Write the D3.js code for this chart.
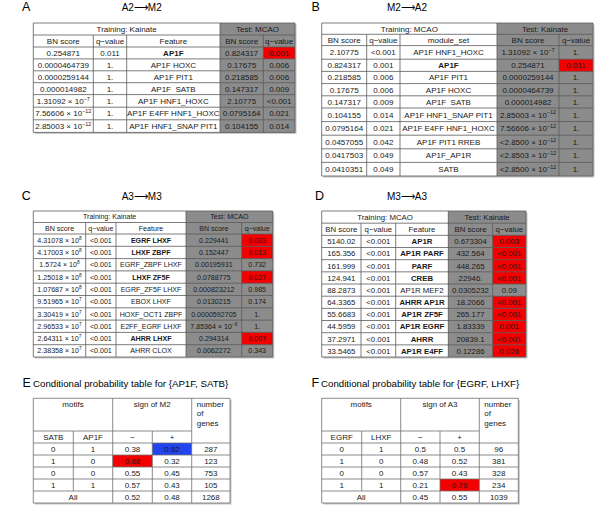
<!DOCTYPE html>
<html>
<head>
<meta charset="utf-8">
<script src="https://cdn.jsdelivr.net/npm/d3@7/dist/d3.min.js"></script>
<style>
body { margin: 0; background: #fff; }
svg { display: block; font-family: "Liberation Sans", Arial, Helvetica, sans-serif; }
</style>
</head>
<body>
<script>
// ---- A : A2 -> M2 (training Kainate, test MCAO)
var aTrainScore = ["0.254871", "0.0000464739", "0.0000259144", "0.000014982", "1.31092e-7", "7.56606e-12", "2.85003e-12"]
var aTrainQ = ["0.011", "1.", "1.", "1.", "1.", "1.", "1."]
var aFeature = ["AP1F", "AP1F HOXC", "AP1F PIT1", "AP1F  SATB", "AP1F HNF1_HOXC", "AP1F E4FF HNF1_HOXC", "AP1F HNF1_SNAP PIT1"]
var aTestScore = ["0.824317", "0.17675", "0.218585", "0.147317", "2.10775", "0.0795164", "0.104155"]
var aTestQ = ["0.001", "0.006", "0.006", "0.009", "<0.001", "0.021", "0.014"]
var aReplicated = [0]

// ---- B : M2 -> A2 (training MCAO, test Kainate)
var bTrainScore = ["2.10775", "0.824317", "0.218585", "0.17675", "0.147317", "0.104155", "0.0795164", "0.0457055", "0.0417503", "0.0410351"]
var bTrainQ = ["<0.001", "0.001", "0.006", "0.006", "0.009", "0.014", "0.021", "0.042", "0.049", "0.049"]
var bFeature = ["AP1F HNF1_HOXC", "AP1F", "AP1F PIT1", "AP1F HOXC", "AP1F  SATB", "AP1F HNF1_SNAP PIT1", "AP1F E4FF HNF1_HOXC", "AP1F PIT1 RREB", "AP1F_AP1R", "SATB"]
var bTestScore = ["1.31092e-7", "0.254871", "0.0000259144", "0.0000464739", "0.000014982", "2.85003e-12", "7.56606e-12", "<2.8500e-12", "<2.8503e-12", "<2.8500e-12"]
var bTestQ = ["1.", "0.011", "1.", "1.", "1.", "1.", "1.", "1.", "1.", "1."]
var bReplicated = [1]

// ---- C : A3 -> M3 (training Kainate, test MCAO)
var cTrainScore = ["4.31078e8", "4.17003e8", "1.5724e8", "1.25018e8", "1.07687e8", "9.51965e7", "3.30419e7", "2.96533e7", "2.64311e7", "2.38358e7"]
var cTrainQ = ["<0.001", "<0.001", "<0.001", "<0.001", "<0.001", "<0.001", "<0.001", "<0.001", "<0.001", "<0.001"]
var cFeature = ["EGRF LHXF", "LHXF ZBPF", "EGRF_ZBPF LHXF", "LHXF ZF5F", "EGRF_ZF5F LHXF", "EBOX LHXF", "HOXF_OCT1 ZBPF", "E2FF_EGRF LHXF", "AHRR LHXF", "AHRR CLOX"]
var cTestScore = ["0.229441", "0.152447", "0.00195931", "0.0788775", "0.000823212", "0.0130215", "0.0000592705", "7.85364e-6", "0.294314", "0.0062272"]
var cTestQ = ["0.003", "0.013", "0.732", "0.027", "0.985", "0.174", "1.", "1.", "0.007", "0.343"]
var cReplicated = [0, 1, 3, 8]

// ---- D : M3 -> A3 (training MCAO, test Kainate)
var dTrainScore = ["5140.02", "165.356", "161.999", "124.941", "88.2873", "64.3365", "55.6683", "44.5959", "37.2971", "33.5465"]
var dTrainQ = ["<0.001", "<0.001", "<0.001", "<0.001", "<0.001", "<0.001", "<0.001", "<0.001", "<0.001", "<0.001"]
var dFeature = ["AP1R", "AP1R PARF", "PARF", "CREB", "AP1R MEF2", "AHRR AP1R", "AP1R ZF5F", "AP1R EGRF", "AHRR", "AP1R E4FF"]
var dTestScore = ["0.673304", "432.564", "448.265", "22946.", "0.0305232", "18.2066", "265.177", "1.83339", "20839.1", "0.12286"]
var dTestQ = ["0.003", "<0.001", "<0.001", "<0.001", "0.09", "<0.001", "<0.001", "0.001", "<0.001", "0.026"]
var dReplicated = [0, 1, 2, 3, 5, 6, 7, 8, 9]

// ---- E : conditional probability table {AP1F, SATB}
var eMotifs = ["SATB", "AP1F"]
var eMotifA = ["0", "1", "0", "1"]
var eMotifB = ["1", "0", "0", "1"]
var eNeg = ["0.38", "0.68", "0.55", "0.57"]
var ePos = ["0.62", "0.32", "0.45", "0.43"]
var eGenes = ["287", "123", "753", "105"]
var eAll = ["0.52", "0.48", "1268"]
var eFlags = [{row: 0, sign: "+"}, {row: 1, sign: "-"}]

// ---- F : conditional probability table {EGRF, LHXF}
var fMotifs = ["EGRF", "LHXF"]
var fMotifA = ["0", "1", "0", "1"]
var fMotifB = ["1", "0", "0", "1"]
var fNeg = ["0.5", "0.48", "0.57", "0.21"]
var fPos = ["0.5", "0.52", "0.43", "0.79"]
var fGenes = ["96", "381", "328", "234"]
var fAll = ["0.45", "0.55", "1039"]
var fFlags = [{row: 3, sign: "+"}]

var GRAY = "#8c8c8c", RED = "#f40000", BLUE = "#2244ee", LINE = "#5a5a5a"

var svg = d3.select("body").append("svg")
    .attr("width", 600)
    .attr("height", 532)

var expRe = /^(<?)([\d.]+)e([+-]?\d+)$/

function isExp(s) { return expRe.test(s) }

// writes a value into a text node, turning 1.2e-7 into 1.2 x 10^-7
function writeValue(t, s, fs) {
    var m = s.match(expRe)
    if (!m) { t.text(s); return }
    t.append("tspan").text(m[1] + m[2] + " \u00d7 10")
    t.append("tspan")
        .attr("font-size", fs * 0.68)
        .attr("dy", -fs * 0.41)
        .text(m[3].replace("-", "\u2212"))
}

function label(letter, lx, title, tx, anchor, base, fs) {
    svg.append("text")
        .attr("x", lx).attr("y", base)
        .attr("font-size", 12.5)
        .text(letter)
    svg.append("text")
        .attr("x", tx).attr("y", base)
        .attr("font-size", fs)
        .attr("text-anchor", anchor)
        .text(title)
}

function resultTable(spec) {
    var g = svg.append("g")
    var fs = spec.fontSize
    var n = spec.cols[0].length
    var heights = [spec.headerH, spec.headerH].concat(d3.range(n).map(function(i) {
        return spec.cols.some(function(c) { return isExp(c[i]) }) ? spec.expRowH : spec.rowH
    }))
    var ys = [spec.top]
    heights.forEach(function(h) { ys.push(ys[ys.length - 1] + h) })
    var x = d3.scaleLinear().domain(d3.range(spec.edges.length)).range(spec.edges)
    var y = d3.scaleLinear().domain(d3.range(ys.length)).range(ys)
    var last = ys.length - 1

    // shadow, white and grey blocks
    g.append("rect")
        .attr("x", x(0) + 1.5).attr("y", y(0) + 1.5)
        .attr("width", x(5) - x(0)).attr("height", y(last) - y(0))
        .attr("fill", "#c4c4c4")
    g.append("rect")
        .attr("x", x(0)).attr("y", y(0))
        .attr("width", x(3) - x(0)).attr("height", y(last) - y(0))
        .attr("fill", "#fff")
    g.append("rect")
        .attr("x", x(3)).attr("y", y(0))
        .attr("width", x(5) - x(3)).attr("height", y(last) - y(0))
        .attr("fill", GRAY)

    g.selectAll(".hit")
        .data(spec.replicated)
        .enter()
        .append("rect")
        .attr("x", x(4)).attr("y", function(i) { return y(i + 2) })
        .attr("width", x(5) - x(4))
        .attr("height", function(i) { return y(i + 3) - y(i + 2) })
        .attr("fill", RED)

    // grid
    g.selectAll(".hl")
        .data(d3.range(ys.length))
        .enter()
        .append("line")
        .attr("x1", x(0)).attr("x2", x(5))
        .attr("y1", function(r) { return y(r) }).attr("y2", function(r) { return y(r) })
        .attr("stroke", LINE).attr("stroke-width", 0.8)
    g.selectAll(".vl")
        .data([0, 1, 2, 3, 4, 5])
        .enter()
        .append("line")
        .attr("x1", function(c) { return x(c) }).attr("x2", function(c) { return x(c) })
        .attr("y1", function(c) { return (c == 0 || c == 3 || c == 5) ? y(0) : y(1) })
        .attr("y2", y(last))
        .attr("stroke", LINE).attr("stroke-width", 0.8)

    function put(cx, r, s, bold) {
        var t = g.append("text")
            .attr("x", cx)
            .attr("y", (y(r) + y(r + 1)) / 2 + fs * 0.36)
            .attr("font-size", fs)
            .attr("text-anchor", "middle")
            .attr("fill", "#1a1a1a")
            .attr("font-weight", bold ? "bold" : null)
            .attr("xml:space", "preserve")
        writeValue(t, s, fs)
    }

    put((x(0) + x(3)) / 2, 0, spec.trainLabel)
    put((x(3) + x(5)) / 2, 0, spec.testLabel)
    spec.colNames.forEach(function(name, c) { put((x(c) + x(c + 1)) / 2, 1, name) })
    spec.cols.forEach(function(col, c) {
        col.forEach(function(v, i) {
            put((x(c) + x(c + 1)) / 2, i + 2, v, c == 2 && spec.replicated.indexOf(i) >= 0)
        })
    })
}

function condTable(spec) {
    var g = svg.append("g")
    var ys = [spec.top, spec.top + spec.h1]
    d3.range(6).forEach(function() { ys.push(ys[ys.length - 1] + spec.rowH) })
    var x = d3.scaleLinear().domain(d3.range(spec.edges.length)).range(spec.edges)
    var y = d3.scaleLinear().domain(d3.range(ys.length)).range(ys)
    var last = ys.length - 1
    var signCol = {"-": 2, "+": 3}

    g.append("rect")
        .attr("x", x(0) + 1.5).attr("y", y(0) + 1.5)
        .attr("width", x(5) - x(0)).attr("height", y(last) - y(0))
        .attr("fill", "#c4c4c4")
    g.append("rect")
        .attr("x", x(0)).attr("y", y(0))
        .attr("width", x(5) - x(0)).attr("height", y(last) - y(0))
        .attr("fill", "#fff")

    g.selectAll(".flag")
        .data(spec.flags)
        .enter()
        .append("rect")
        .attr("x", function(f) { return x(signCol[f.sign]) })
        .attr("y", function(f) { return y(f.row + 2) })
        .attr("width", function(f) { return x(signCol[f.sign] + 1) - x(signCol[f.sign]) })
        .attr("height", spec.rowH)
        .attr("fill", function(f) { return f.sign == "+" && spec.flags.length > 1 ? BLUE : RED })

    var hl = [[0, 0, 5], [1, 0, 4]].concat(d3.range(2, last + 1).map(function(r) { return [r, 0, 5] }))
    g.selectAll(".hl")
        .data(hl)
        .enter()
        .append("line")
        .attr("x1", function(d) { return x(d[1]) }).attr("x2", function(d) { return x(d[2]) })
        .attr("y1", function(d) { return y(d[0]) }).attr("y2", function(d) { return y(d[0]) })
        .attr("stroke", "#6e6e6e").attr("stroke-width", 0.8)
    var vl = [[0, 0, last], [2, 0, last], [4, 0, last], [5, 0, last], [1, 1, last - 1], [3, 1, last]]
    g.selectAll(".vl")
        .data(vl)
        .enter()
        .append("line")
        .attr("x1", function(d) { return x(d[0]) }).attr("x2", function(d) { return x(d[0]) })
        .attr("y1", function(d) { return y(d[1]) }).attr("y2", function(d) { return y(d[2]) })
        .attr("stroke", "#6e6e6e").attr("stroke-width", 0.8)

    function put(cx, cy, s, anchor) {
        g.append("text")
            .attr("x", cx).attr("y", cy)
            .attr("font-size", 8)
            .attr("text-anchor", anchor || "middle")
            .attr("fill", "#1a1a1a")
            .text(s)
    }
    function mid(c) { return (x(c) + x(c + 1)) / 2 }
    function rowY(r) { return (y(r) + y(r + 1)) / 2 + 2.9 }

    put((x(0) + x(2)) / 2, y(0) + 8.5, "motifs")
    put((x(2) + x(4)) / 2, y(0) + 8.5, spec.signLabel)
    ;["number", "of", "genes"].forEach(function(w, k) {
        put(x(4) + 5, y(0) + 8.5 + k * 9.5, w, "start")
    })
    put(mid(0), rowY(1), spec.motifs[0])
    put(mid(1), rowY(1), spec.motifs[1])
    put(mid(2), rowY(1), "\u2212")
    put(mid(3), rowY(1), "+")
    var cols = [spec.a, spec.b, spec.neg, spec.pos, spec.genes]
    cols.forEach(function(col, c) {
        col.forEach(function(v, i) { put(mid(c), rowY(i + 2), v) })
    })
    put((x(0) + x(2)) / 2, rowY(last - 1), "All")
    spec.all.forEach(function(v, k) { put(mid(k + 2), rowY(last - 1), v) })
}

label("A", 22, "A2\u27f6M2", 141.7, "middle", 10.7, 10)
label("B", 311.5, "M2\u27f6A2", 407, "middle", 10.7, 10)
label("C", 21.7, "A3\u27f6M3", 141.7, "middle", 200, 10)
label("D", 315, "M3\u27f6A3", 407, "middle", 200, 10)
label("E", 22.5, "Conditional probability table for {AP1F, SATB}", 33, "start", 387.3, 9.7)
label("F", 311.5, "Conditional probability table for {EGRF, LHXF}", 321, "start", 387.3, 9.7)

var scoreHeads = ["BN score", "q\u2212value", "Feature", "BN score", "q\u2212value"]

resultTable({
    edges: [33.3, 93.3, 126.7, 220, 263.3, 295], top: 23, fontSize: 8,
    headerH: 12, rowH: 11.9, expRowH: 12.6,
    trainLabel: "Training: Kainate", testLabel: "Test: MCAO", colNames: scoreHeads,
    cols: [aTrainScore, aTrainQ, aFeature, aTestScore, aTestQ], replicated: aReplicated
})
resultTable({
    edges: [321.7, 366.7, 400, 497, 559, 593], top: 23, fontSize: 8,
    headerH: 11.3, rowH: 12.2, expRowH: 13.6,
    trainLabel: "Training: MCAO", testLabel: "Test: Kainate",
    colNames: ["BN score", "q\u2212value", "module_set", "BN score", "q\u2212value"],
    cols: [bTrainScore, bTrainQ, bFeature, bTestScore, bTestQ], replicated: bReplicated
})
resultTable({
    edges: [33.3, 85.7, 116, 186, 241.7, 272.7], top: 211, fontSize: 7.1,
    headerH: 11.5, rowH: 12.3, expRowH: 12.3,
    trainLabel: "Training: Kainate", testLabel: "Test: MCAO", colNames: scoreHeads,
    cols: [cTrainScore, cTrainQ, cFeature, cTestScore, cTestQ], replicated: cReplicated
})
resultTable({
    edges: [321.7, 361, 395.7, 448.3, 492.7, 526], top: 211, fontSize: 7.8,
    headerH: 12.17, rowH: 12.17, expRowH: 12.17,
    trainLabel: "Training: MCAO", testLabel: "Test: Kainate", colNames: scoreHeads,
    cols: [dTrainScore, dTrainQ, dFeature, dTestScore, dTestQ], replicated: dReplicated
})

condTable({
    edges: [33.3, 73.3, 112.7, 152.3, 191.7, 230], top: 398.3, h1: 32.7, rowH: 12,
    motifs: eMotifs, signLabel: "sign of M2",
    a: eMotifA, b: eMotifB, neg: eNeg, pos: ePos, genes: eGenes, all: eAll, flags: eFlags
})
condTable({
    edges: [321.7, 361.7, 400.7, 440, 479.3, 518.3], top: 398.3, h1: 32.7, rowH: 12,
    motifs: fMotifs, signLabel: "sign of A3",
    a: fMotifA, b: fMotifB, neg: fNeg, pos: fPos, genes: fGenes, all: fAll, flags: fFlags
})
</script>
</body>
</html>
